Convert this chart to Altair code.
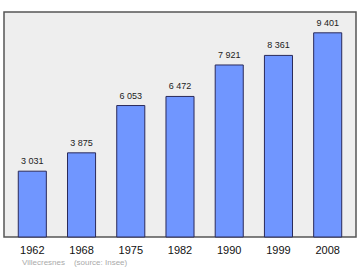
import altair as alt
import pandas as pd

years = ["1962", "1968", "1975", "1982", "1990", "1999", "2008"]
population = [3031, 3875, 6053, 6472, 7921, 8361, 9401]
labels = ["3 031", "3 875", "6 053", "6 472", "7 921", "8 361", "9 401"]

df = pd.DataFrame({"year": years, "pop": population, "label": labels})

x = alt.X("year:N", sort=years, title=None,
          scale=alt.Scale(paddingInner=0.43, paddingOuter=0.29),
          axis=alt.Axis(labelAngle=0, domain=False, ticks=False, labelPadding=7,
                        labelFontSize=11, labelColor="#111", labelFont="Liberation Sans"))
y = alt.Y("pop:Q", title=None, scale=alt.Scale(domain=[0, 10360], nice=False),
          axis=None)

bars = alt.Chart(df).mark_bar(color="#7096ff", stroke="#2a2a5a", strokeWidth=1).encode(x=x, y=y)
text = alt.Chart(df).mark_text(dy=-10, fontSize=9, color="#222", font="Liberation Sans").encode(
    x=x, y=y, text="label:N")

chart = (bars + text).properties(
    width=352, height=225,
    padding={"left": 4, "top": 12, "right": 4, "bottom": 33},
    autosize=alt.AutoSizeParams(type="none"),
    background="white",
    title=alt.TitleParams("Villecresnes\u00a0\u00a0\u00a0\u00a0(source: Insee)", orient="bottom",
                          anchor="start", fontSize=8, color="#aaaaaa", fontWeight="normal",
                          font="Liberation Sans", offset=4, dx=18),
).configure_view(fill="#eeeeee", stroke="#555555", strokeWidth=1.5)

chart.save("out.html", embed_options={"renderer": "svg", "actions": False})
